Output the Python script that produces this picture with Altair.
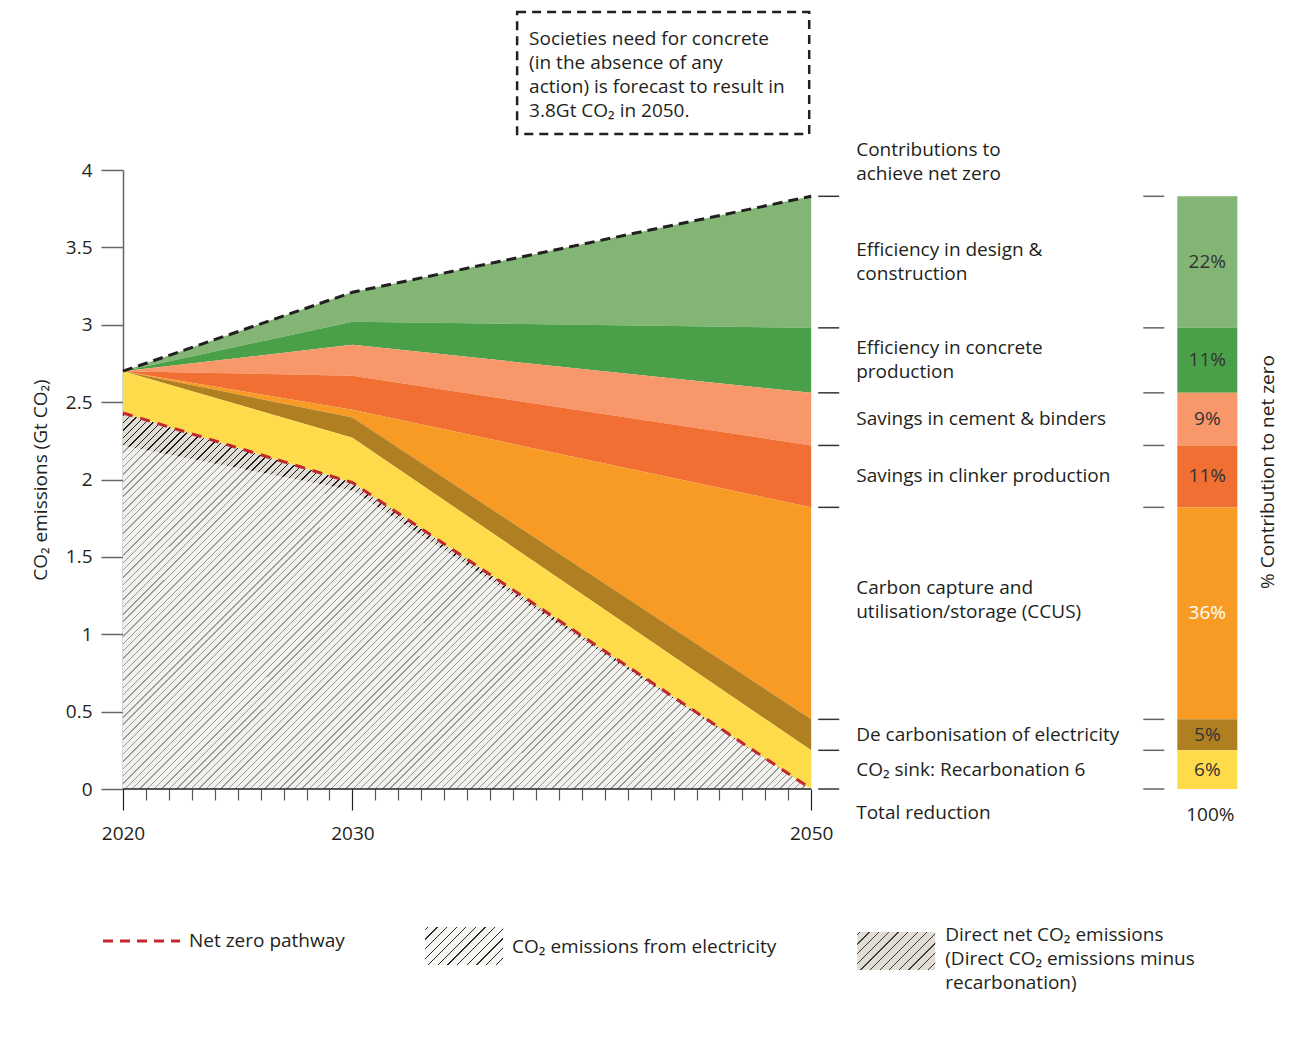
import math
import altair as alt
import pandas as pd

# ---------------- data ----------------
years = [2020, 2030, 2050]
baseline = [2.70, 3.21, 3.83]          # no-action forecast (top dashed line)
concrete_eff_top = [2.70, 3.02, 2.98]
cement_top = [2.70, 2.87, 2.56]
clinker_top = [2.70, 2.67, 2.22]
ccus_top = [2.70, 2.45, 1.82]
decarb_top = [2.70, 2.40, 0.45]
recarb_top = [2.70, 2.27, 0.25]
net_zero = [2.43, 1.98, 0.00]          # net zero pathway
direct_net = [2.22, 1.93, 0.00]        # lower edge of electricity band

layer_names = [
    "Efficiency in design & construction",
    "Efficiency in concrete production",
    "Savings in cement & binders",
    "Savings in clinker production",
    "Carbon capture and utilisation/storage (CCUS)",
    "De carbonisation of electricity",
    "CO₂ sink: Recarbonation 6",
]
label_texts = [
    "Efficiency in design &\nconstruction",
    "Efficiency in concrete\nproduction",
    "Savings in cement & binders",
    "Savings in clinker production",
    "Carbon capture and\nutilisation/storage (CCUS)",
    "De carbonisation of electricity",
    "CO₂ sink: Recarbonation 6",
]
shares = [22, 11, 9, 11, 36, 5, 6]
colors = ["#83b575", "#4aa049", "#f7976a", "#f26f33", "#f89b25", "#b07f22", "#fddb4b"]

tops = [baseline, concrete_eff_top, cement_top, clinker_top, ccus_top, decarb_top, recarb_top]
bottoms = [concrete_eff_top, cement_top, clinker_top, ccus_top, decarb_top, recarb_top, net_zero]

# ---------------- layout / style ----------------
FONT = "Open Sans"
TXT = "#231f20"
FS = 19
LH = 24
PX = 688 / 30.0                 # pixels per year
XMAX = 2070
W = round((XMAX - 2020) * PX)
H = 619
PXY = H / 4.0                   # pixels per Gt


def px_x(p):  # annotation anchor: page pixel -> year units
    return 2020 + (p - 123) / PX


def px_y(p):  # annotation anchor: page pixel -> Gt units
    return (789 - p) / PXY


def hatch(bg, fg, w, h, spacing=5.2, lw=1.0):
    r = h / w
    a = (1 + r) / (1 + r * r)
    L = (w + h) / math.sqrt(2)
    stops = [{"offset": 0, "color": bg}]
    i = 0
    while True:
        s0 = (i * spacing + 1.5) / L
        if s0 >= 1:
            break
        s1 = min((i * spacing + 1.5 + lw) / L, 1)
        stops += [{"offset": round(s0, 6), "color": bg}, {"offset": round(s0, 6), "color": fg},
                  {"offset": round(s1, 6), "color": fg}, {"offset": round(s1, 6), "color": bg}]
        i += 1
    stops.append({"offset": 1, "color": bg})
    return {"gradient": "linear", "x1": 0, "y1": 0, "x2": a, "y2": a * r, "stops": stops}


xs = alt.Scale(domain=[2020, XMAX], nice=False, zero=False)
ys = alt.Scale(domain=[0, 4], nice=False)
cs = alt.Scale(domain=layer_names, range=colors)

major = "datum.value == 2020 || datum.value == 2030 || datum.value == 2050"
X_AX = alt.Axis(
    values=list(range(2020, 2051)), format="d",
    labelExpr=f"({major}) ? datum.label : ''",
    labelFlush=False, labelOverlap=False,
    domain=False, grid=False,
    tickSize={"condition": {"test": major, "value": 21}, "value": 11},
    tickColor={"condition": {"test": major, "value": "#231f20"}, "value": "#555555"},
    tickWidth=1.2,
    labelFont=FONT, labelFontSize=FS, labelColor=TXT, labelPadding=14, title=None)
Y_AX = alt.Axis(
    values=[0, 0.5, 1, 1.5, 2, 2.5, 3, 3.5, 4], format="~g", grid=False,
    domainColor="#666666", domainWidth=1.5, tickColor="#666666", tickWidth=1.5, tickSize=22,
    labelFont=FONT, labelFontSize=FS, labelColor=TXT, labelPadding=9,
    title="CO₂ emissions (Gt CO₂)", titleFont=FONT, titleFontSize=FS,
    titleFontWeight="normal", titleColor=TXT, titlePadding=15)


def X(f, **k):
    return alt.X(f, scale=xs, axis=X_AX, **k)


def Y(f, **k):
    return alt.Y(f, scale=ys, axis=Y_AX, **k)


# ---------------- tables ----------------
rows = []
for name, lo, hi in zip(layer_names, bottoms, tops):
    for yr, l, h in zip(years, lo, hi):
        rows.append({"layer": name, "year": yr, "lo": l, "hi": h})
areas = pd.DataFrame(rows)

path = pd.DataFrame({"year": years, "base": baseline, "nz": net_zero, "dn": direct_net})

b2050 = [t[-1] for t in tops] + [net_zero[-1]]
bar = pd.DataFrame({
    "layer": layer_names,
    "hi": [t[-1] for t in tops],
    "lo": [b[-1] for b in bottoms],
    "share": [f"{s}%" for s in shares],
    "label": label_texts,
})
bar["mid"] = (bar["hi"] + bar["lo"]) / 2
is_ccus = bar["layer"].str.startswith("Carbon capture")
center = bar["mid"].where(~is_ccus, px_y(600))
nlines = bar["label"].str.count("\n")
bar["lab_y"] = center + nlines * (LH / 2) / PXY     # first-line anchor
bar["bx0"] = px_x(1177)
bar["bx1"] = px_x(1237)
bar["bxc"] = px_x(1207)
bar["lx"] = px_x(856)

ticks = pd.DataFrame({"v": b2050})
ticks["a0"] = px_x(818)
ticks["a1"] = px_x(839)
ticks["b0"] = px_x(1143)
ticks["b1"] = px_x(1164)

hw = 30 * PX
hh = net_zero[0] * PXY

# ---------------- layers ----------------
hatched = alt.Chart(path).mark_area(fill=hatch("#f2f1ed", "#9a9a9a", hw, hh)).encode(
    x=X("year:Q"), y=Y("nz:Q", stack=None))

band = alt.Chart(path).mark_area(fill=hatch("#e1ddd5", "#1e1e1e", hw, hh)).encode(
    x=X("year:Q"), y=Y("nz:Q", stack=None), y2="dn:Q")

stack_areas = alt.Chart(areas).mark_area(opacity=1).encode(
    x=X("year:Q"), y=Y("lo:Q", stack=None), y2="hi:Q",
    color=alt.Color("layer:N", scale=cs, legend=None), detail="layer:N")

top_line = alt.Chart(path).mark_line(color="#231f20", strokeWidth=3, strokeDash=[10, 6]).encode(
    x=X("year:Q"), y=Y("base:Q"))
nz_line = alt.Chart(path).mark_line(color="#c1272d", strokeWidth=3, strokeDash=[10, 8]).encode(
    x=X("year:Q"), y=Y("nz:Q"))

x_axis_line = alt.Chart(pd.DataFrame({"a": [years[0]], "b": [years[-1]], "v": [0]})).mark_rule(
    color="#231f20", strokeWidth=1.5).encode(x=X("a:Q"), x2="b:Q", y=Y("v:Q"))

ticks_a = alt.Chart(ticks).mark_rule(color="#333333", strokeWidth=1.5).encode(
    x=X("a0:Q"), x2="a1:Q", y=Y("v:Q"))
ticks_b = alt.Chart(ticks).mark_rule(color="#666666", strokeWidth=1.5).encode(
    x=X("b0:Q"), x2="b1:Q", y=Y("v:Q"))

bar_rects = alt.Chart(bar).mark_rect().encode(
    x=X("bx0:Q"), x2="bx1:Q", y=Y("lo:Q"), y2="hi:Q",
    color=alt.Color("layer:N", scale=cs, legend=None))

pct_dark = alt.Chart(bar[~is_ccus]).mark_text(font=FONT, fontSize=FS, color="#333333").encode(
    x=X("bxc:Q"), y=Y("mid:Q"), text="share:N")
pct_light = alt.Chart(bar[is_ccus]).mark_text(font=FONT, fontSize=FS, color="#ffffff").encode(
    x=X("bxc:Q"), y=Y("mid:Q"), text="share:N")

labels = alt.Chart(bar).mark_text(font=FONT, fontSize=FS, color=TXT, align="left",
                                   lineBreak="\n", lineHeight=LH).encode(
    x=X("lx:Q"), y=Y("lab_y:Q"), text="label:N")

# ---------------- annotations (first-line anchors) ----------------
notes = pd.DataFrame([
    {"x": px_x(856), "y": px_y(150), "t": "Contributions to\nachieve net zero"},
    {"x": px_x(856), "y": px_y(813), "t": "Total reduction"},
    {"x": px_x(189), "y": px_y(941), "t": "Net zero pathway"},
    {"x": px_x(512), "y": px_y(947), "t": "CO₂ emissions from electricity"},
    {"x": px_x(945), "y": px_y(935), "t": "Direct net CO₂ emissions\n(Direct CO₂ emissions minus\nrecarbonation)"},
])
note_text = alt.Chart(notes).mark_text(font=FONT, fontSize=FS, color=TXT, align="left",
                                        lineBreak="\n", lineHeight=LH).encode(
    x=X("x:Q"), y=Y("y:Q"), text="t:N")

box = alt.Chart(pd.DataFrame({"x0": [px_x(517)], "x1": [px_x(809)], "y0": [px_y(12)], "y1": [px_y(134)]})).mark_rect(
    fill="#ffffff", stroke="#231f20", strokeWidth=2.5, strokeDash=[9, 6]).encode(
    x=X("x0:Q"), x2="x1:Q", y=Y("y0:Q"), y2="y1:Q")
box_text = alt.Chart(pd.DataFrame({"x": [px_x(529)], "y": [px_y(39)],
                                   "t": ["Societies need for concrete\n(in the absence of any\naction) is forecast to result in\n3.8Gt CO₂ in 2050."]})).mark_text(
    font=FONT, fontSize=FS, color=TXT, align="left", lineBreak="\n", lineHeight=24).encode(
    x=X("x:Q"), y=Y("y:Q"), text="t:N")

hundred = alt.Chart(pd.DataFrame({"x": [px_x(1210)], "y": [px_y(815)], "t": ["100%"]})).mark_text(
    font=FONT, fontSize=FS, color=TXT).encode(x=X("x:Q"), y=Y("y:Q"), text="t:N")
right_title = alt.Chart(pd.DataFrame({"x": [px_x(1268)], "y": [px_y(472)], "t": ["% Contribution to net zero"]})).mark_text(
    font=FONT, fontSize=FS, color=TXT, angle=270).encode(x=X("x:Q"), y=Y("y:Q"), text="t:N")

leg_line = alt.Chart(pd.DataFrame({"a": [px_x(103)], "b": [px_x(180)], "v": [px_y(941)]})).mark_rule(
    color="#c1272d", strokeWidth=3, strokeDash=[10, 7]).encode(x=X("a:Q"), x2="b:Q", y=Y("v:Q"))
sw1 = alt.Chart(pd.DataFrame({"x0": [px_x(425)], "x1": [px_x(503)], "y0": [px_y(927)], "y1": [px_y(965)]})).mark_rect(
    fill=hatch("#f7f6f2", "#2a2a2a", 78, 38, 6.8, 0.9)).encode(
    x=X("x0:Q"), x2="x1:Q", y=Y("y0:Q"), y2="y1:Q")
sw2 = alt.Chart(pd.DataFrame({"x0": [px_x(857)], "x1": [px_x(935)], "y0": [px_y(932)], "y1": [px_y(970)]})).mark_rect(
    fill=hatch("#e1ddd5", "#3a3a3a", 78, 38, 6.8, 0.9)).encode(
    x=X("x0:Q"), x2="x1:Q", y=Y("y0:Q"), y2="y1:Q")

chart = alt.layer(
    hatched, band, stack_areas, top_line, nz_line, x_axis_line,
    ticks_a, ticks_b, bar_rects, pct_dark, pct_light, labels,
    box, box_text, note_text, hundred, right_title, leg_line, sw1, sw2,
).properties(
    width=W, height=H,
    autosize=alt.AutoSizeParams(type="none"),
    padding={"left": 115, "top": 162, "right": 25, "bottom": 230},
    background="white",
).configure_view(stroke=None)

chart.save("out.html", embed_options={"renderer": "svg", "actions": False})
